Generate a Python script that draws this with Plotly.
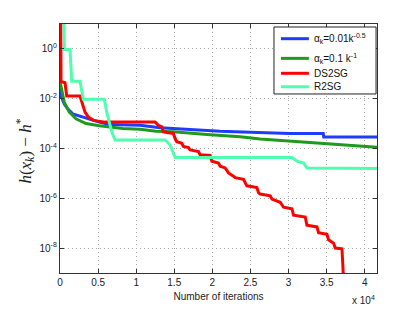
import plotly.graph_objects as go

# ---- data (x in iterations, y as log10 of h(x_k)-h*) ----
blue_x = [0, 131, 565, 1012, 1669, 2983, 3850, 5164, 6478, 10512, 13140, 15768,
          18396, 21024, 26017, 30222, 34558, 34624, 41614]
blue_log = [-1.6, -1.89, -2.21, -2.41, -2.61, -2.74, -2.81, -2.94, -3.04, -3.07, -3.17,
            -3.22, -3.26, -3.31, -3.36, -3.40, -3.40, -3.54, -3.54]

green_x = [0, 131, 565, 1222, 2102, 3416, 5164, 8239, 10512, 12614, 14888, 19276,
           23652, 26280, 30222, 35478, 41614]
green_log = [-1.3, -1.49, -2.15, -2.54, -2.81, -3.00, -3.09, -3.20, -3.23, -3.31, -3.33,
             -3.44, -3.53, -3.62, -3.70, -3.83, -3.95]

red_x = [100, 131, 657, 880, 2628, 2851, 3285, 3719, 4376, 5913, 12483, 12917, 13363,
         13574, 14888, 15111, 15334, 15991, 16202, 16859, 17082, 18173, 18396, 19710,
         19933, 20801, 21024, 21681, 22115, 22772, 22995, 24086, 24533, 25847, 26057,
         26280, 27594, 27818, 28908, 29342, 30445, 30656, 32193, 32417, 33731, 33941,
         35045, 35255, 35912, 36135, 37016, 37147, 37226]
red_log = [1.5, -1.31, -1.36, -1.89, -1.89, -2.15, -2.54, -2.74, -2.87, -2.94, -2.94,
           -3.07, -3.13, -3.33, -3.40, -3.60, -3.73, -3.79, -3.92, -3.96, -4.06, -4.12,
           -4.25, -4.28, -4.51, -4.58, -4.71, -4.78, -4.98, -5.11, -5.17, -5.24, -5.50,
           -5.57, -5.77, -5.83, -5.90, -6.03, -6.16, -6.36, -6.42, -6.68, -6.75, -7.08,
           -7.15, -7.38, -7.45, -7.67, -7.80, -8.00, -8.03, -8.79, -9.5]

aqua_x = [430, 590, 1314, 1537, 2628, 3062, 5821, 6136, 6793, 7227, 13797, 14454,
          14888, 15111, 30445, 31102, 31969, 32417, 41614]
aqua_log = [1.5, -0.02, -0.02, -1.30, -1.30, -2.02, -2.02, -2.54, -3.33, -3.66, -3.66,
            -3.86, -4.19, -4.36, -4.36, -4.51, -4.58, -4.78, -4.80]

names = ["α<sub>k</sub>=0.01k<sup>-0.5</sup>", "α<sub>k</sub>=0.1 k<sup>-1</sup>",
         "DS2SG", "R2SG"]
colors = ["#1e3cff", "#1f9a1f", "#ff0000", "#50ffae"]

x_tickvals = [0, 5000, 10000, 15000, 20000, 25000, 30000, 35000, 40000]
x_ticktext = ["0", "0.5", "1", "1.5", "2", "2.5", "3", "3.5", "4"]
y_tickvals = [1e0, 1e-2, 1e-4, 1e-6, 1e-8]
y_ticktext = ["10<sup>0</sup>", "10<sup>-2</sup>", "10<sup>-4</sup>",
              "10<sup>-6</sup>", "10<sup>-8</sup>"]

series = [(blue_x, blue_log), (green_x, green_log), (red_x, red_log), (aqua_x, aqua_log)]

fig = go.Figure()
for (xs, ls), nm, c in zip(series, names, colors):
    fig.add_trace(go.Scatter(x=xs, y=[10 ** v for v in ls], mode="lines", name=nm,
                             line=dict(color=c, width=3), showlegend=False))

font_main = "Liberation Sans, Arial, sans-serif"
axis_common = dict(showline=True, linecolor="#333", linewidth=1.3, mirror="ticks",
                   ticks="inside", ticklen=4, tickcolor="#333",
                   showgrid=True, gridcolor="#a8a8a8", griddash="1px,3px", gridwidth=1,
                   zeroline=False, tickfont=dict(family=font_main, size=10, color="#222"))

# the page body adds an 8px offset, so the figure is 8px smaller with 8px less top/left margin
fig.update_layout(
    width=407, height=304,
    margin=dict(l=52, r=38, t=16, b=35),
    paper_bgcolor="white", plot_bgcolor="white",
    font=dict(family=font_main, size=10, color="#222"),
    xaxis=dict(range=[0, 41614], tickvals=x_tickvals, ticktext=x_ticktext,
               title=dict(text="Number of iterations", standoff=5,
                          font=dict(family=font_main, size=10, color="#222")),
               **axis_common),
    yaxis=dict(type="log", range=[-9, 1], tickvals=y_tickvals, ticktext=y_ticktext,
               **axis_common),
    showlegend=False,
)

# ---- legend box (paper coordinates) ----
fig.add_shape(type="rect", xref="paper", yref="paper", x0=0.675, x1=0.997,
              y0=0.719, y1=0.988, line=dict(color="#222", width=1), fillcolor="white",
              layer="above")
leg_y = [0.941, 0.862, 0.802, 0.748]
for nm, c, yy in zip(names, colors, leg_y):
    fig.add_shape(type="line", xref="paper", yref="paper", x0=0.697, x1=0.785,
                  y0=yy, y1=yy, line=dict(color=c, width=3), layer="above")
    fig.add_annotation(text=nm, xref="paper", yref="paper", x=0.795, y=yy,
                       xanchor="left", yanchor="middle", showarrow=False,
                       font=dict(family=font_main, size=10, color="#111"))

fig.add_annotation(text="<i>h</i>(<i>x<sub>k</sub></i>) − <i>h</i><sup>*</sup>",
                   xref="paper", yref="paper", x=-0.11, y=0.488,
                   xanchor="center", yanchor="middle", textangle=-90, showarrow=False,
                   font=dict(family="Liberation Serif, Times New Roman, serif", size=17,
                             color="#222"))
fig.add_annotation(text="x 10<sup>4</sup>", xref="paper", yref="paper",
                   x=1.0, y=-0.075, xanchor="right", yanchor="top", showarrow=False,
                   font=dict(family=font_main, size=10, color="#222"))

fig.write_html("out.html")
